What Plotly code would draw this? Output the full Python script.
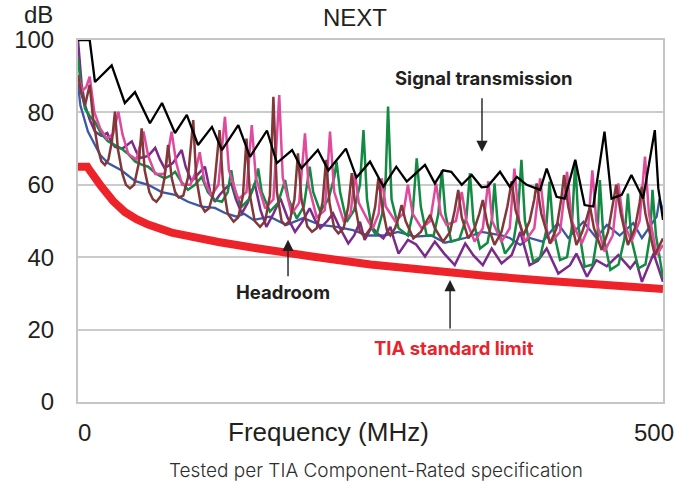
import plotly.graph_objects as go

# ---- Measured NEXT curves (frequency in MHz, NEXT in dB) ----
black_f = [0, 10, 14.5, 28.8, 40, 48.7, 61.5, 71.8, 82.9, 93,
           102.6, 114.5, 123, 137, 147, 161.5, 170, 183, 191, 205,
           214, 229, 238, 249.6, 261, 272, 281, 296.6, 305, 312,
           319, 328, 336.5, 345, 350, 360.7, 369, 375, 383.5, 395,
           400.6, 409, 416, 425, 433, 440.4, 450, 456, 464.7, 473,
           483, 493, 496, 500]
black_db = [100, 100, 88.4, 93, 82.6, 85.6, 77, 82.6, 74.3, 79.3,
            71, 76, 69.6, 76.5, 67.7, 75, 66, 69.6, 64.6, 69.6,
            64, 70, 62, 66.4, 59.5, 65, 60.9, 65.5, 60.4, 64,
            63.6, 60, 62.7, 59.3, 59.5, 63.6, 59.5, 62.2, 60, 58.6,
            64.5, 56.7, 56.2, 66.9, 54.4, 54, 74.7, 56.2, 57.2, 62.7,
            56.2, 75.1, 59, 50.3]

blue_f = [0, 2, 8.5, 19, 25.6, 37, 49, 60, 71.5, 83,
          94, 105.7, 117, 125.6, 135.6, 142, 150, 164, 178, 192.6,
          207, 221, 235, 248, 262, 273.5, 288, 302, 313.7, 330.8,
          345, 362, 369, 378, 386, 397, 410, 419, 432, 443,
          452, 463, 474.6, 482, 494.6, 497, 500]
blue_db = [88, 82, 74.7, 68.2, 66, 64, 61, 60, 58, 57.2,
           55.3, 54, 53.6, 52.2, 51.2, 52, 50.3, 51.2, 48.9, 50.8,
           48.9, 48.4, 47.5, 46, 46, 47, 45.7, 46, 44, 45.3,
           47, 46, 45.3, 43.4, 45.3, 44.3, 49.4, 45.3, 49.8, 45.3,
           48.9, 46, 49.4, 45.3, 51.2, 56, 53]

green_f = [0, 3, 6, 10, 14.5, 20, 25.6, 31, 37, 43,
           49, 55, 60, 67, 74, 79, 83, 88, 94, 100,
           105.7, 111, 117, 123, 128, 131, 134, 140, 146, 151,
           154, 157, 164, 171, 175, 177, 180, 187, 193, 196,
           198, 201, 207, 214, 219, 221, 224, 229.6, 236, 241,
           244, 247, 251, 255, 260, 263, 265, 268, 274, 282,
           286, 289.5, 293, 298, 304, 308, 311, 314, 319, 326,
           332, 335, 338, 343.6, 350, 354, 356, 359, 365, 372,
           376, 379, 382, 389, 395, 400, 403, 406, 412, 418,
           422, 425, 428, 433, 440, 444, 446, 449, 455, 462,
           467, 470, 473, 479, 485, 489, 491, 494, 500]
green_db = [95, 86, 81, 79, 77.4, 74, 72, 71, 70, 68.5,
            66.4, 65.5, 65, 63, 61.8, 62.5, 63.6, 61, 58.6, 60,
            62.2, 58, 55.8, 55.3, 58, 64, 58, 54, 56, 60,
            64.5, 58, 52.6, 55, 59, 61.3, 56, 50.7, 54, 60,
            65, 58, 52.6, 56, 62, 66.4, 58, 49.8, 53, 60,
            75.1, 56, 48, 46, 52, 62, 81.6, 56, 48, 46,
            52, 67.3, 54, 46, 46, 52, 64, 52, 44.3, 45,
            51, 63.2, 50, 42.4, 44, 51, 60.4, 48, 41, 44,
            52, 66.9, 50, 38.8, 40, 47, 60.9, 48, 39.2, 40,
            48, 66.4, 48, 37.4, 38, 46, 61.3, 46, 36.5, 38,
            45, 57.6, 45, 36.9, 38, 46, 58.6, 46, 34.3]

pink_f = [0, 4, 7, 10, 14, 19, 24.5, 30, 34.5, 38,
          43, 50, 56, 60, 66, 74, 80, 84, 89, 96,
          100, 104, 108, 114, 120, 125.6, 129, 137, 144, 148.5,
          152, 160, 167, 172, 175, 182.6, 189, 194, 197, 204,
          211, 215.4, 219, 227, 233, 236.7, 240, 248, 252, 257,
          259.6, 263, 271, 278, 282, 286, 293.7, 301, 306, 310,
          315, 323, 328, 332, 339, 346, 350.7, 354, 362, 369,
          373, 377, 382, 390, 395, 399, 403.4, 412, 418, 422,
          430.5, 436, 439.6, 443, 450, 457, 461.8, 466, 473, 480,
          484.6, 488, 494.6, 500]
pink_db = [90, 86, 87, 89.9, 80, 75.6, 72.8, 74, 80.2, 74,
           68.5, 67, 74.7, 68, 63, 63, 74.7, 66, 60, 60,
           63, 69, 61, 57, 60, 78.8, 64, 56, 58, 76.5,
           62, 53.5, 56, 84.8, 62, 52, 55, 74.2, 60, 51,
           53, 74.7, 58, 50, 52, 63.2, 55, 50, 48, 52,
           61.8, 54, 50, 52, 60, 52, 48, 50, 60.4, 52,
           48.9, 50, 58, 50, 44.3, 48, 61, 50, 44.3, 48,
           64.5, 50, 44.3, 48, 61.8, 50, 43.8, 47, 63.6, 50,
           43.8, 48, 64, 50, 41.6, 46, 60.4, 50, 44.3, 50,
           67.8, 52, 40.6, 43.4]

brown_f = [0, 3, 6, 10, 13, 17, 20, 23, 26, 29,
           31.6, 34, 38, 41, 44.4, 48, 52, 54.4, 57, 61,
           64, 67, 71, 74, 77, 80, 83, 86, 90, 94,
           98.5, 101, 105, 108.5, 112, 116, 121, 124, 128, 133,
           137, 141, 144, 147, 151, 155.6, 160, 164, 167, 170,
           174, 177, 181, 185, 188, 191, 196, 200, 204, 209,
           212, 215, 219, 222.5, 227, 231, 234, 237, 241, 245,
           250, 254, 256.7, 260, 264, 267, 271, 274, 276.6, 280,
           286.6, 293, 298, 301, 305, 312, 318, 322, 325, 328,
           333.6, 339, 343, 346, 350, 356, 362, 367, 370.7, 374,
           380.6, 386, 390, 392, 396, 403.4, 409, 413, 415.4, 419,
           426, 431, 435, 437.6, 441, 447.6, 453, 457, 460, 464,
           470, 476, 480, 481.8, 485, 493, 500]
brown_db = [90.3, 85, 82, 87.6, 78, 70, 66.5, 65.5, 67, 72,
            80.2, 70, 63, 60, 59, 60, 66, 75.6, 64, 58,
            56, 55.3, 57, 62, 71, 62, 58, 56.5, 57, 62,
            77.9, 62, 54.5, 52.6, 53.5, 58, 75.1, 60, 52, 49.8,
            51, 57, 72.8, 57, 50, 48.4, 50, 57, 84.3, 58,
            50, 48.9, 50, 56, 68.7, 56, 48.5, 47, 48, 55,
            66.9, 55, 48, 46.6, 48, 54, 63.2, 54, 47, 45.7,
            48, 54, 61.8, 54, 47.5, 46, 48, 51, 54.4, 50,
            45.2, 47, 50, 51.7, 48, 44.3, 47, 53, 58.6, 51,
            45.2, 48, 52, 55.8, 49, 43.4, 47, 54, 61, 53,
            46, 50, 56, 60.4, 52, 43.8, 48, 56, 62.7, 54,
            43.4, 47, 51, 54, 48, 42, 47, 54, 60, 52,
            43.4, 48, 55, 59.5, 52, 40.6, 45.2]

purple_f = [0, 3, 6, 10, 14.5, 20, 25, 28, 31.6, 38,
            46, 50, 53, 60, 66, 70, 74, 81, 88.6, 92,
            97, 103, 108.5, 113, 117, 121, 126, 131, 135, 140,
            145, 151, 156, 161, 167, 173, 179, 185.5, 192, 198,
            203, 207, 213, 218, 224, 231, 236, 241, 245, 251,
            256, 261, 267, 270, 274, 282, 289, 296.6, 305, 313,
            322, 331, 338, 346, 353.6, 362, 370.7, 378, 386, 393,
            400.6, 410.5, 420.5, 426, 435, 443, 452, 461.8, 472, 477,
            482, 492, 500]
purple_db = [100, 88, 82, 78, 74.7, 73.5, 74.3, 72, 70.5, 70,
             72, 69, 67.4, 68, 70.2, 67, 64.6, 66, 69.6, 65,
             61, 63, 65, 58, 55.3, 57.2, 59, 60.4, 56, 52.1,
             55, 60.4, 53, 48.4, 52, 56.2, 51, 47, 50, 53.5,
             50, 48, 50, 52.1, 48, 43.8, 46, 49.8, 44.8, 48.4,
             46.5, 45.2, 48.4, 45, 41, 44.8, 43.5, 40.2, 44.3, 41,
             37.8, 43.8, 40.5, 37.8, 42.4, 38.3, 40.6, 47, 37.8, 39,
             42.4, 35.5, 37.8, 41, 34.6, 39.2, 37.5, 40.6, 36.9, 39,
             33.2, 41, 33.2]

# TIA standard limit line
limit_f = [0, 8, 10, 15, 20, 30, 40, 50, 60, 80, 100, 120, 150, 180, 200,
           250, 300, 350, 400, 450, 500]
limit_db = [65, 65, 64, 61.5, 59.5, 55.5, 52.5, 50.5, 49, 46.8, 45.3, 44.2,
            42.6, 41, 40.2, 38, 36.3, 34.8, 33.5, 32.3, 31.2]

y_ticks = [0, 20, 40, 60, 80, 100]
x_ticks = [0, 500]
x_tick_nudge = [6, -9]   # px offsets of the end labels toward the plot centre

TEXT = "#231f20"
LABEL_FONT = "Liberation Sans"
NOTE_FONT = "Inter"

fig = go.Figure()

series = [
    (blue_f, blue_db, "#3b57a6", 2.3),
    (purple_f, purple_db, "#7a2a8a", 2.5),
    (green_f, green_db, "#138a42", 2.5),
    (pink_f, pink_db, "#e04a9c", 2.5),
    (brown_f, brown_db, "#823838", 2.5),
    (black_f, black_db, "#000000", 2.3),
]
for fx, fy, color, w in series:
    fig.add_trace(go.Scatter(x=fx, y=fy, mode="lines",
                             line=dict(color=color, width=w),
                             hoverinfo="skip"))

fig.add_trace(go.Scatter(x=limit_f, y=limit_db, mode="lines",
                         line=dict(color="#ee2329", width=8),
                         hoverinfo="skip"))

axis_line = "#c6c6c6"
fig.update_xaxes(range=[0, 500], tickvals=x_ticks, showticklabels=False,
                 showgrid=False, zeroline=False, showline=True, linecolor=axis_line,
                 linewidth=2, mirror=True, ticks="", automargin=False)
fig.update_yaxes(range=[0, 100], tickvals=y_ticks, showgrid=True, gridcolor="#cbcbcb",
                 gridwidth=1.5, zeroline=False, showline=True, linecolor=axis_line,
                 linewidth=2, mirror=True, ticks="", ticklabelstandoff=17,
                 automargin=False,
                 tickfont=dict(family=LABEL_FONT, size=24, color=TEXT))

annotations = [
    dict(text="dB", xref="paper", yref="paper", x=-0.0957, y=1.0,
         yshift=26, xanchor="left", yanchor="middle", showarrow=False,
         font=dict(family=LABEL_FONT, size=24, color=TEXT)),
    dict(text="NEXT", xref="paper", yref="paper", x=0.4735, y=1.0635,
         xanchor="center", yanchor="middle", showarrow=False,
         font=dict(family=LABEL_FONT, size=24, color=TEXT)),
    dict(text="Frequency (MHz)", xref="paper", yref="paper", x=0.429, y=-0.083,
         xanchor="center", yanchor="middle", showarrow=False,
         font=dict(family=LABEL_FONT, size=26, color=TEXT)),
    dict(text="Tested per TIA Component-Rated specification", xref="paper", yref="paper",
         x=0.509, y=-0.19, xanchor="center", yanchor="middle", showarrow=False,
         font=dict(family="Inter", weight=300, size=19, color="#2e2e2e")),
    # callout labels
    dict(text="<b>Signal transmission</b>", x=347, y=89.5, xanchor="center",
         yanchor="middle", showarrow=False,
         font=dict(family=NOTE_FONT, size=18.5, color=TEXT)),
    dict(text="<b>Headroom</b>", x=175.6, y=30.4, xanchor="center",
         yanchor="middle", showarrow=False,
         font=dict(family=NOTE_FONT, size=18.5, color=TEXT)),
    dict(text="<b>TIA standard limit</b>", x=321, y=14.9, xanchor="center",
         yanchor="middle", showarrow=False,
         font=dict(family=NOTE_FONT, size=18.5, color="#e8232b")),
]

# frequency tick labels at the ends of the axis
for v, nudge in zip(x_ticks, x_tick_nudge):
    annotations.append(dict(text=str(v), x=v, xref="x", y=-0.083, yref="paper",
                            xanchor="center", yanchor="middle", xshift=nudge,
                            showarrow=False,
                            font=dict(family=LABEL_FONT, size=24, color=TEXT)))

# callout arrows: (head x, head y, tail y)
arrows = [(345.3, 69.1, 84.3), (179.5, 44.8, 34.3), (318, 33.7, 19.9)]
for hx, hy, ty in arrows:
    annotations.append(dict(text="", x=hx, y=hy, ax=hx, ay=ty, xref="x", yref="y",
                            axref="x", ayref="y", showarrow=True, arrowhead=2,
                            arrowsize=1.6, arrowwidth=1.4, arrowcolor=TEXT, standoff=0))

fig.update_layout(width=687, height=484, margin=dict(l=78, r=24, t=40, b=82),
                  plot_bgcolor="white", paper_bgcolor="white", showlegend=False,
                  annotations=annotations,
                  font=dict(family=LABEL_FONT, color=TEXT))

fig.write_html("out.html")
